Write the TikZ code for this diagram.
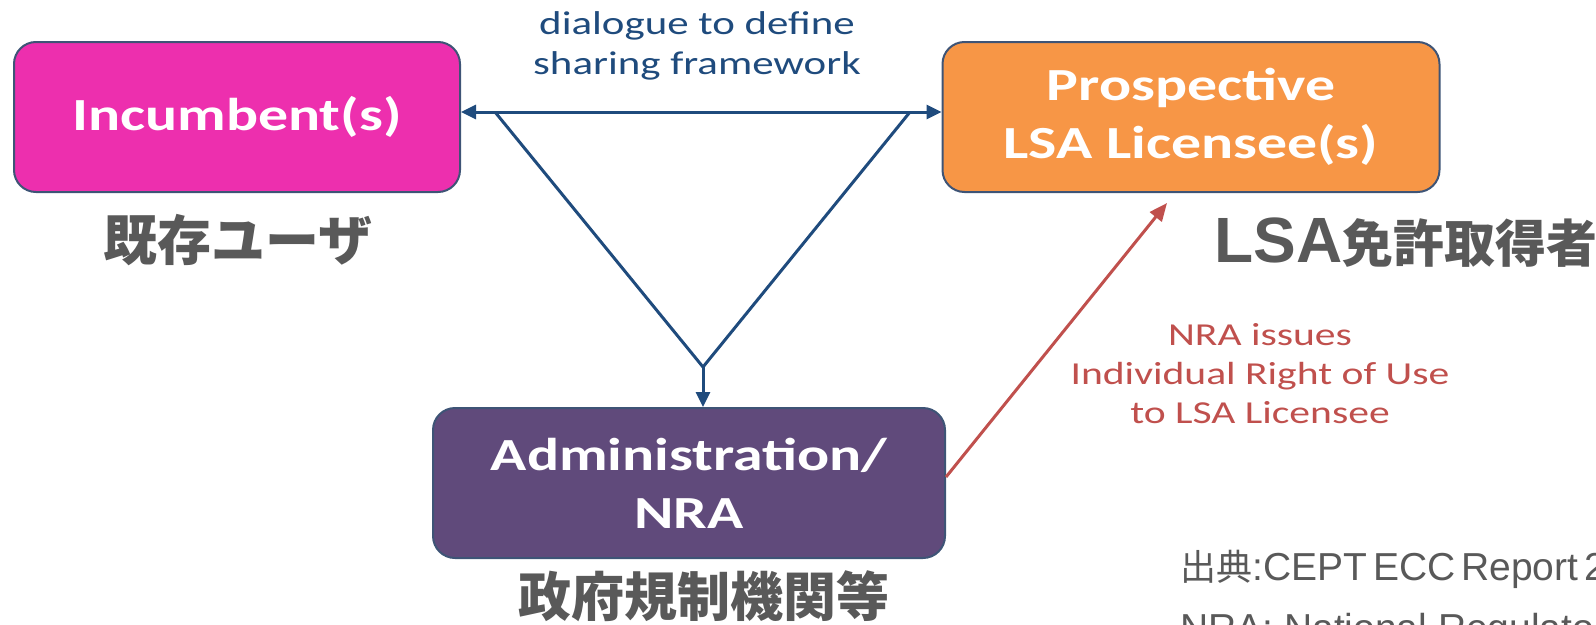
\documentclass[tikz,border=0pt]{standalone}
\usepackage{fontspec}
\setmainfont{Carlito}
\newfontfamily\jpfont{Noto Sans CJK JP}
\newfontfamily\arialfont{Liberation Sans}
\usetikzlibrary{arrows.meta}

\definecolor{incfill}{RGB}{237,47,174}
\definecolor{prosfill}{RGB}{247,150,70}
\definecolor{admfill}{RGB}{96,74,123}
\definecolor{boxline}{RGB}{62,84,118}
\definecolor{linkblue}{RGB}{31,75,125}
\definecolor{nrared}{RGB}{192,80,77}
\definecolor{jpgray}{RGB}{89,89,89}

% the slide text is set wide
\newcommand{\wider}[1]{\scalebox{1.3}[1]{#1}}

\tikzstyle{party} = [rounded corners=22pt, draw=boxline, line width=2pt, text=white, align=center, minimum height=150pt, inner sep=0pt, font=\bfseries\fontsize{46}{58}\selectfont]
\tikzstyle{jplabel} = [text=jpgray, inner sep=0pt, font=\jpfont\bfseries\fontsize{54}{60}\selectfont]
\tikzstyle{link} = [draw=linkblue, line width=3pt]
\tikzstyle{onehead} = [-{Triangle[length=15pt,width=14pt]}]
\tikzstyle{twohead} = [{Triangle[length=15pt,width=14pt]}-{Triangle[length=15pt,width=14pt]}]

\begin{document}
\begin{tikzpicture}[x=1pt, y=-1pt]
\useasboundingbox (0,0) rectangle (1596,624);
\clip (0,0) rectangle (1596,624);

%begin boxes
\node[party, fill=incfill, minimum width=446pt] (inc) at (237,117) {\wider{Incumbent(s)}};
\node[party, fill=prosfill, minimum width=497pt] (pros) at (1191,117) {\wider{Prospective}\\\wider{LSA Licensee(s)}};
\node[party, fill=admfill, minimum width=512pt] (adm) at (689,483) {\wider{Administration/}\\\wider{NRA}};
%end boxes

%begin dialogue triangle
\coordinate (vL) at (495,112);
\coordinate (vR) at (910,112);
\coordinate (apex) at (703,367);
\draw[link, twohead] ([yshift=5pt]inc.east) -- ([yshift=5pt]pros.west);
\draw[link, line join=miter] (vL) -- (apex) -- (vR);
\draw[link, onehead] (apex) -- (apex |- adm.north);
\node[text=linkblue, align=center, font=\fontsize{33}{40}\selectfont] (dlg) at (697,46) {\wider{dialogue to define}\\\wider{sharing framework}};
%end dialogue triangle

%begin licence arrow
\coordinate (lsaTip) at (1167,203);
\draw[draw=nrared, line width=3pt, -{Triangle[length=18pt,width=15pt]}] ([yshift=6pt]adm.east) -- (lsaTip);
\node[text=nrared, align=center, font=\fontsize{32}{39}\selectfont] (iru) at (1260,374) {\wider{NRA issues}\\\wider{Individual Right of Use}\\\wider{to LSA Licensee}};
%end licence arrow

%begin japanese labels
\node[jplabel] (incJp) at (238,240) {既存ユーザ};
\node[jplabel, anchor=base west] (prosJp) at (1214,262) {{\arialfont\fontsize{64}{70}\selectfont LSA}{\fontsize{51}{60}\selectfont 免許取得者}};
\node[jplabel, font=\jpfont\bfseries\fontsize{53}{60}\selectfont] (admJp) at (704,596) {政府規制機関等};
%end japanese labels

%begin source note
\node[text=jpgray, anchor=base west, inner sep=0pt, font=\arialfont\fontsize{39}{48}\selectfont] (src) at (1180,580) {{\jpfont\fontsize{36}{48}\selectfont 出典}:\spaceskip=6pt CEPT ECC Report 2};
\node[text=jpgray, anchor=base west, inner sep=0pt, font=\arialfont\fontsize{39}{48}\selectfont] (nra) at (1180,641) {NRA: National Regulatory};
%end source note
\end{tikzpicture}
\end{document}
